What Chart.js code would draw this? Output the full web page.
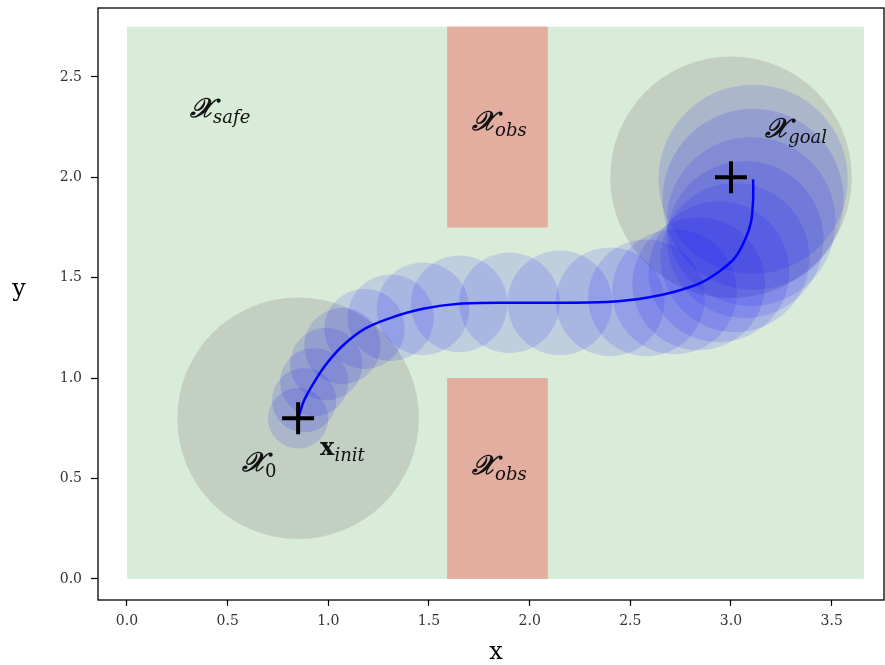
<!DOCTYPE html>
<html>
<head>
<meta charset="utf-8">
<script src="https://cdn.jsdelivr.net/npm/chart.js@4/dist/chart.umd.min.js"></script>
<style>
  body { margin: 0; background: #fff; }
  #wrap { width: 885px; height: 665px; }
</style>
</head>
<body>
<div id="wrap"><canvas id="chart"></canvas></div>
<script>
// planned trajectory and tube radius at each step
const trajX = [0.85, 0.88, 0.93, 0.99, 1.07, 1.18, 1.31, 1.47, 1.65, 1.90, 2.15, 2.40, 2.58, 2.72, 2.84, 2.94, 3.02, 3.07, 3.10, 3.11, 3.11];
const trajY = [0.80, 0.89, 0.98, 1.07, 1.16, 1.245, 1.30, 1.345, 1.37, 1.375, 1.375, 1.38, 1.40, 1.43, 1.47, 1.53, 1.60, 1.69, 1.78, 1.89, 1.99];
const tubeR = [0.15, 0.16, 0.17, 0.18, 0.19, 0.20, 0.215, 0.23, 0.24, 0.25, 0.26, 0.27, 0.29, 0.31, 0.33, 0.35, 0.37, 0.39, 0.42, 0.45, 0.47];

// initial set and goal set (balls)
const ballX = [0.85, 3.0];
const ballY = [0.8, 2.0];
const ballR = [0.6, 0.6];

// x_init and goal markers
const markX = [0.85, 3.0];
const markY = [0.8, 2.0];

// safe region, then the two obstacles
const rectX0 = [0, 1.59, 1.59];
const rectX1 = [3.66, 2.09, 2.09];
const rectY0 = [0, 1.75, 0];
const rectY1 = [2.75, 2.75, 1.0];

// region labels
const labelMain = ['𝒳', '𝒳', '𝒳', '𝒳', 'x', '𝒳'];
const labelSub = ['safe', 'obs', 'goal', '0', 'init', 'obs'];
const labelX = [0.313, 1.714, 3.17, 0.571, 0.959, 1.714];
const labelY = [2.30, 2.235, 2.20, 0.535, 0.615, 0.52];

const xTicks = [0.0, 0.5, 1.0, 1.5, 2.0, 2.5, 3.0, 3.5];
const yTicks = [0.0, 0.5, 1.0, 1.5, 2.0, 2.5];

const rectColors = ['rgba(0,128,0,0.15)', 'rgb(227,173,160)', 'rgb(227,173,160)'];
const serif = "'DejaVu Serif', 'Liberation Serif', serif";

function pts(xs, ys) {
    return xs.map((x, i) => ({ x: x, y: ys[i] }));
}

// radius given in data units -> pixels
function dataRadius(arr) {
    return function(ctx) {
        const s = ctx.chart.scales.x;
        if (!s) return 0;
        return Math.abs(s.getPixelForValue(arr[ctx.dataIndex]) - s.getPixelForValue(0));
    };
}

function noPad(s) {
    s.paddingTop = 0; s.paddingBottom = 0; s.paddingLeft = 0; s.paddingRight = 0;
}

const regionsPlugin = {
    id: 'regions',
    beforeDatasetsDraw(chart) {
        const c = chart.ctx, x = chart.scales.x, y = chart.scales.y;
        c.save();
        for (let i = 0; i < rectX0.length; i++) {
            const l = x.getPixelForValue(rectX0[i]), r = x.getPixelForValue(rectX1[i]);
            const t = y.getPixelForValue(rectY1[i]), b = y.getPixelForValue(rectY0[i]);
            c.fillStyle = rectColors[i];
            c.fillRect(l, t, r - l, b - t);
        }
        c.restore();
    },
    afterDatasetsDraw(chart) {
        const c = chart.ctx, x = chart.scales.x, y = chart.scales.y;
        c.save();
        c.fillStyle = '#111';
        c.textBaseline = 'alphabetic';
        for (let i = 0; i < labelMain.length; i++) {
            const px = x.getPixelForValue(labelX[i]), py = y.getPixelForValue(labelY[i]);
            if (labelMain[i] === 'x') c.font = 'bold 24px ' + serif;
            else c.font = 'bold italic 27px ' + serif;
            c.fillText(labelMain[i], px, py);
            const w = c.measureText(labelMain[i]).width;
            c.font = (labelSub[i] === '0' ? '' : 'italic ') + '18px ' + serif;
            c.fillText(labelSub[i], px + w, py + 6);
        }
        c.restore();
    },
    afterDraw(chart) {
        const c = chart.ctx, a = chart.chartArea;
        c.save();
        c.strokeStyle = '#000';
        c.lineWidth = 1.3;
        c.strokeRect(a.left, a.top, a.right - a.left, a.bottom - a.top);
        c.font = '24px ' + serif;
        c.fillStyle = '#000';
        c.textAlign = 'center';
        c.textBaseline = 'middle';
        c.fillText('x', (a.left + a.right) / 2 + 5, 653);
        c.fillText('y', 19, 290);
        c.restore();
    }
};

new Chart(document.getElementById('chart'), {
    type: 'scatter',
    data: {
        datasets: [
            {
                label: 'marks',
                data: pts(markX, markY),
                pointStyle: 'cross',
                pointRadius: 16,
                borderColor: '#000',
                borderWidth: 4,
                order: 1
            },
            {
                label: 'trajectory',
                data: pts(trajX, trajY),
                showLine: true,
                borderColor: 'rgb(0,0,255)',
                borderWidth: 2.5,
                tension: 0.3,
                pointRadius: 0,
                order: 2
            },
            {
                label: 'tube',
                data: pts(trajX, trajY),
                pointRadius: dataRadius(tubeR),
                backgroundColor: 'rgba(0,0,255,0.12)',
                borderWidth: 0,
                order: 3
            },
            {
                label: 'sets',
                data: pts(ballX, ballY),
                pointRadius: dataRadius(ballR),
                backgroundColor: 'rgba(128,128,128,0.27)',
                borderWidth: 0,
                order: 4
            }
        ]
    },
    options: {
        responsive: true,
        maintainAspectRatio: false,
        animation: false,
        events: [],
        layout: { autoPadding: false, padding: { left: 0, top: 8, right: 1, bottom: 0 } },
        plugins: { legend: { display: false }, tooltip: { enabled: false } },
        scales: {
            x: {
                type: 'linear',
                min: -0.144,
                max: 3.76,
                afterBuildTicks: s => { s.ticks = xTicks.map(v => ({ value: v })); },
                afterFit: s => { s.height = 65; noPad(s); },
                grid: { drawOnChartArea: false, drawTicks: true, tickLength: 6, color: '#000', tickWidth: 1.2 },
                border: { display: false },
                ticks: { font: { family: serif, size: 14 }, color: '#333', padding: 7, maxRotation: 0,
                         callback: v => v.toFixed(1) }
            },
            y: {
                type: 'linear',
                min: -0.105,
                max: 2.843,
                afterBuildTicks: s => { s.ticks = yTicks.map(v => ({ value: v })); },
                afterFit: s => { s.width = 98; noPad(s); },
                grid: { drawOnChartArea: false, drawTicks: true, tickLength: 7, color: '#000', tickWidth: 1.2 },
                border: { display: false },
                ticks: { font: { family: serif, size: 14 }, color: '#333', padding: 9,
                         callback: v => v.toFixed(1) }
            }
        }
    },
    plugins: [regionsPlugin]
});
</script>
</body>
</html>
